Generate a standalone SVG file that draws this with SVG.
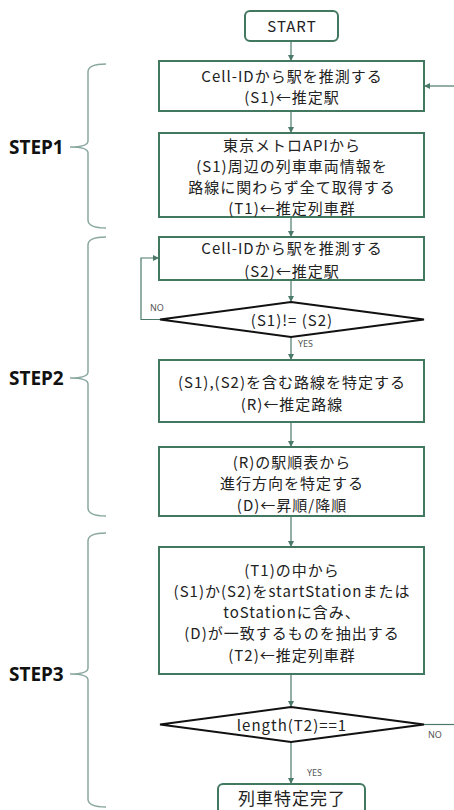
<svg xmlns="http://www.w3.org/2000/svg" width="454" height="810" viewBox="0 0 454 810">
<defs>
<marker id="ah" markerWidth="6" markerHeight="6" refX="5" refY="3" orient="auto" markerUnits="userSpaceOnUse">
<path d="M0,0 L6,3 L0,6 z" fill="#4b7a68"/>
</marker>
<style>
.box{fill:#fff;stroke:#41785f;stroke-width:2}
.dia{fill:#fff;stroke:#111;stroke-width:2}
.t{font-family:"Noto Sans CJK JP","Noto Sans",sans-serif;font-size:15px;letter-spacing:1px;fill:#222;text-anchor:middle}
.lbl{font-family:"Noto Sans","Liberation Sans",sans-serif;font-size:9px;fill:#555}
.step{font-family:"Noto Sans","Liberation Sans",sans-serif;font-size:19px;font-weight:bold;fill:#111}
.c{fill:none;stroke:#4b7a68;stroke-width:1.2}
.br{fill:none;stroke:#8aa8a0;stroke-width:1.5}
</style>
</defs>
<rect width="454" height="810" fill="#fff"/>
<g id="braces">
<path class="br" d="M106,64 Q88,64 88,72 V141 Q88,147 70,147 Q88,147 88,153 V220 Q88,228 106,228"/>
<path class="br" d="M106,237 Q88,237 88,245 V372 Q88,378 70,378 Q88,378 88,384 V508 Q88,516 106,516"/>
<path class="br" d="M106,533 Q88,533 88,541 V668 Q88,674 70,674 Q88,674 88,680 V799 Q88,807 106,807"/>
<text class="step" x="9" y="154">STEP1</text>
<text class="step" x="9" y="385">STEP2</text>
<text class="step" x="9" y="681">STEP3</text>
</g>
<g id="connectors">
<line class="c" x1="291" y1="41" x2="291" y2="60" marker-end="url(#ah)"/>
<line class="c" x1="291" y1="111" x2="291" y2="132" marker-end="url(#ah)"/>
<line class="c" x1="291" y1="217" x2="291" y2="236" marker-end="url(#ah)"/>
<line class="c" x1="291" y1="280" x2="291" y2="301" marker-end="url(#ah)"/>
<line class="c" x1="291" y1="337" x2="291" y2="359" marker-end="url(#ah)"/>
<line class="c" x1="291" y1="422" x2="291" y2="446" marker-end="url(#ah)"/>
<line class="c" x1="291" y1="516" x2="291" y2="546" marker-end="url(#ah)"/>
<line class="c" x1="291" y1="674" x2="291" y2="706" marker-end="url(#ah)"/>
<line class="c" x1="291" y1="742" x2="291" y2="783" marker-end="url(#ah)"/>
<line class="c" x1="454" y1="86" x2="425" y2="86" marker-end="url(#ah)"/>
<polyline class="c" points="160,319.5 141,319.5 141,258 158,258" marker-end="url(#ah)"/>
<line class="c" x1="424" y1="724.5" x2="454" y2="724.5"/>
<text class="lbl" x="150" y="311">NO</text>
<text class="lbl" x="298" y="347">YES</text>
<text class="lbl" x="428" y="738">NO</text>
<text class="lbl" x="307" y="776">YES</text>
</g>
<g id="start">
<rect class="box" x="245" y="11" width="93" height="30" rx="5"/>
<text class="t" x="292" y="31.5">START</text>
</g>
<g id="s1">
<rect class="box" x="159" y="61" width="265" height="50"/>
<text class="t" x="292" y="82">Cell-IDから駅を推測する</text>
<text class="t" x="292" y="103">(S1)←推定駅</text>
</g>
<g id="t1">
<rect class="box" x="159" y="133" width="265" height="84"/>
<text class="t" x="292" y="151">東京メトロAPIから</text>
<text class="t" x="292" y="172">(S1)周辺の列車車両情報を</text>
<text class="t" x="292" y="193">路線に関わらず全て取得する</text>
<text class="t" x="292" y="214">(T1)←推定列車群</text>
</g>
<g id="s2">
<rect class="box" x="159" y="237" width="265" height="43"/>
<text class="t" x="292" y="254">Cell-IDから駅を推測する</text>
<text class="t" x="292" y="277">(S2)←推定駅</text>
</g>
<g id="d1">
<polygon class="dia" points="291,302 424,319.5 291,337 160,319.5"/>
<text class="t" x="292" y="325.5">(S1)!= (S2)</text>
</g>
<g id="r">
<rect class="box" x="159" y="360" width="265" height="62"/>
<text class="t" x="292" y="388">(S1),(S2)を含む路線を特定する</text>
<text class="t" x="292" y="410">(R)←推定路線</text>
</g>
<g id="d">
<rect class="box" x="159" y="447" width="265" height="69"/>
<text class="t" x="292" y="468">(R)の駅順表から</text>
<text class="t" x="292" y="489">進行方向を特定する</text>
<text class="t" x="292" y="511">(D)←昇順/降順</text>
</g>
<g id="t2">
<rect class="box" x="159" y="547" width="265" height="127"/>
<text class="t" x="292" y="576">(T1)の中から</text>
<text class="t" x="292" y="597">(S1)か(S2)をstartStationまたは</text>
<text class="t" x="292" y="618">toStationに含み、</text>
<text class="t" x="292" y="639">(D)が一致するものを抽出する</text>
<text class="t" x="292" y="661">(T2)←推定列車群</text>
</g>
<g id="d2">
<polygon class="dia" points="291,707 424,724.5 291,742 160,724.5"/>
<text class="t" x="292" y="730.5">length(T2)==1</text>
</g>
<g id="end">
<rect class="box" x="218" y="784" width="147" height="34" rx="5"/>
<text class="t" x="292" y="805" style="font-size:17px">列車特定完了</text>
</g>
</svg>
